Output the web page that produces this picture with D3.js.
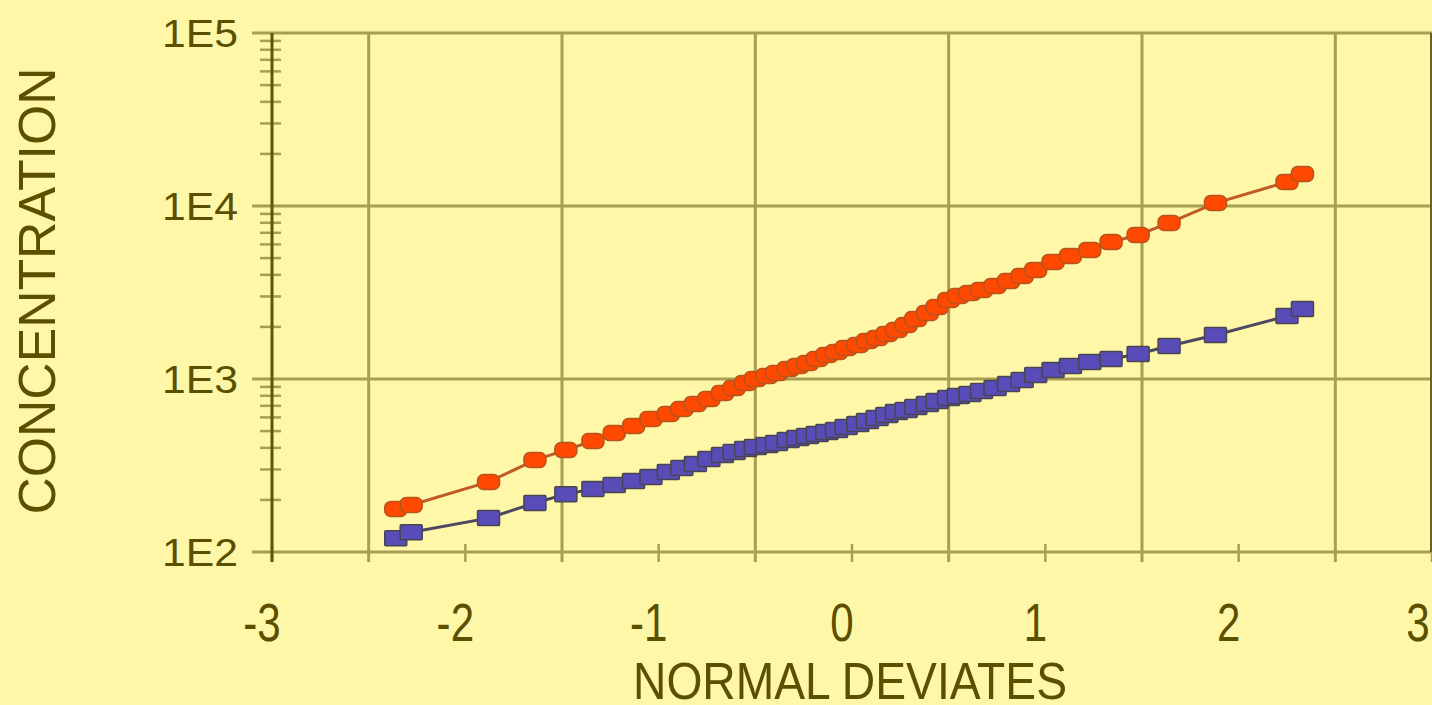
<!DOCTYPE html>
<html>
<head>
<meta charset="utf-8">
<script src="https://cdn.jsdelivr.net/npm/d3@7"></script>
<style>
  body { margin: 0; background: #fff7a8; overflow: hidden; }
  svg { display: block; }
  text { font-family: "Liberation Sans", Arial, sans-serif; fill: #5b5000; }
</style>
</head>
<body>
<div id="chart"></div>
<script>
// normal deviates (x) shared by both samples
let deviates = [-2.36, -2.28, -1.88, -1.64, -1.48, -1.34, -1.23, -1.13, -1.04, -0.95,
                -0.88, -0.81, -0.74, -0.67, -0.61, -0.55, -0.50, -0.44, -0.39, -0.33,
                -0.28, -0.23, -0.18, -0.13, -0.08, -0.03, 0.03, 0.08, 0.13, 0.18,
                0.23, 0.28, 0.33, 0.39, 0.44, 0.50, 0.55, 0.61, 0.67, 0.74,
                0.81, 0.88, 0.95, 1.04, 1.13, 1.23, 1.34, 1.48, 1.64, 1.88,
                2.25, 2.33];

// upper sample (orange)
let upperConc = [177, 187, 254, 340, 389, 438, 488, 535, 587, 628,
                 671, 717, 766, 830, 887, 948, 1000, 1041, 1083, 1143,
                 1189, 1237, 1305, 1377, 1433, 1511, 1573, 1659, 1726, 1820,
                 1920, 2051, 2222, 2409, 2609, 2863, 3020, 3142, 3268, 3449,
                 3684, 3936, 4266, 4744, 5140, 5568, 6198, 6796, 7977, 10400,
                 13770, 15310];

// lower sample (blue)
let lowerConc = [120, 130, 157, 192, 216, 231, 244, 257, 271, 290,
                 306, 323, 345, 364, 378, 394, 405, 415, 427, 444,
                 456, 469, 481, 494, 507, 528, 550, 572, 595, 619,
                 644, 662, 689, 717, 746, 776, 798, 819, 853, 887,
                 936, 986, 1054, 1127, 1189, 1254, 1305, 1396, 1552, 1796,
                 2313, 2541];

let xTicks = [-3, -2, -1, 0, 1, 2, 3];
let xGrid = [-2.5, -1.5, -0.5, 0.5, 1.5, 2.5];
let yMajor = [100, 1000, 10000, 100000];
let yLabels = ["1E2", "1E3", "1E4", "1E5"];

let width = 1432, height = 705;
let plot = {left: 272, right: 1432, top: 33, bottom: 552};

let svg = d3.select("#chart").append("svg")
    .attr("width", width)
    .attr("height", height);

svg.append("rect").attr("width", width).attr("height", height).attr("fill", "#fff7a8");

let x = d3.scaleLinear().domain([-3, 3]).range([plot.left, plot.right]);
let y = d3.scaleLog().domain([100, 100000]).range([plot.bottom, plot.top]);

let gridColor = "#a89d55";
let axisColor = "#5e5410";

// minor log ticks on the y axis
let minor = [];
yMajor.slice(0, 3).forEach(d => {
    for (let k = 2; k <= 9; k++) minor.push(d * k);
});
svg.selectAll(".minorTick").data(minor).enter().append("line")
    .attr("class", "minorTick")
    .attr("x1", plot.left - 12).attr("x2", plot.left + 9)
    .attr("y1", d => y(d)).attr("y2", d => y(d))
    .attr("stroke", gridColor).attr("stroke-width", 2.5);

// horizontal gridlines (decades)
svg.selectAll(".hGrid").data(yMajor).enter().append("line")
    .attr("class", "hGrid")
    .attr("x1", plot.left - 20).attr("x2", plot.right)
    .attr("y1", d => y(d)).attr("y2", d => y(d))
    .attr("stroke", gridColor).attr("stroke-width", 3);

// vertical gridlines at half units
svg.selectAll(".vGrid").data(xGrid).enter().append("line")
    .attr("class", "vGrid")
    .attr("x1", d => x(d)).attr("x2", d => x(d))
    .attr("y1", plot.top).attr("y2", plot.bottom + 10)
    .attr("stroke", gridColor).attr("stroke-width", 3);

// integer ticks crossing the x axis
svg.selectAll(".xTick").data(xTicks).enter().append("line")
    .attr("class", "xTick")
    .attr("x1", d => x(d)).attr("x2", d => x(d))
    .attr("y1", plot.bottom - 8).attr("y2", plot.bottom + 10)
    .attr("stroke", gridColor).attr("stroke-width", 2.5);

// y axis and right border
svg.append("line")
    .attr("x1", plot.left).attr("x2", plot.left)
    .attr("y1", plot.top).attr("y2", plot.bottom + 10)
    .attr("stroke", axisColor).attr("stroke-width", 3);
svg.append("line")
    .attr("x1", plot.right - 1).attr("x2", plot.right - 1)
    .attr("y1", plot.top).attr("y2", plot.bottom)
    .attr("stroke", "#6b6224").attr("stroke-width", 2);

// tick labels
svg.selectAll(".yLabel").data(yMajor).enter().append("text")
    .attr("class", "yLabel")
    .attr("x", 238)
    .attr("y", d => y(d) + 14)
    .attr("text-anchor", "end")
    .attr("font-size", 38)
    .attr("textLength", 76)
    .attr("lengthAdjust", "spacingAndGlyphs")
    .text((d, i) => yLabels[i]);

// narrow x labels, squeezed around their own centre
svg.selectAll(".xLabel").data(xTicks).enter().append("text")
    .attr("class", "xLabel")
    .attr("transform", d => "translate(" + (x(d) - (d == 3 ? 14 : 10)) + ",641) scale(0.78,1)")
    .attr("text-anchor", "middle")
    .attr("font-size", 54)
    .text(d => d);

// axis titles
svg.append("text")
    .attr("x", 850).attr("y", 699)
    .attr("text-anchor", "middle")
    .attr("font-size", 51)
    .attr("textLength", 434)
    .attr("lengthAdjust", "spacingAndGlyphs")
    .text("NORMAL DEVIATES");

svg.append("text")
    .attr("transform", "translate(55,291) rotate(-90)")
    .attr("text-anchor", "middle")
    .attr("font-size", 52)
    .attr("textLength", 447)
    .attr("lengthAdjust", "spacingAndGlyphs")
    .text("CONCENTRATION");

// series
let series = [
    {id: "upper", values: upperConc, line: "#c05a26", fill: "#ff4800", edge: "#b5541c", rx: 6},
    {id: "lower", values: lowerConc, line: "#4b4860", fill: "#5a4cb8", edge: "#47464f", rx: 1}
];

let line = d3.line().x(d => x(d[0])).y(d => y(d[1]));

series.forEach(s => {
    let pts = deviates.map((d, i) => [d, s.values[i]]);
    svg.append("path")
        .datum(pts)
        .attr("d", line)
        .attr("fill", "none")
        .attr("stroke", s.line)
        .attr("stroke-width", 3);

    svg.selectAll(".m-" + s.id).data(pts).enter().append("rect")
        .attr("class", "m-" + s.id)
        .attr("x", d => x(d[0]) - 11)
        .attr("y", d => y(d[1]) - 7.5)
        .attr("width", 22)
        .attr("height", 15)
        .attr("rx", s.rx)
        .attr("fill", s.fill)
        .attr("stroke", s.edge)
        .attr("stroke-width", 1.5);
});
</script>
</body>
</html>
